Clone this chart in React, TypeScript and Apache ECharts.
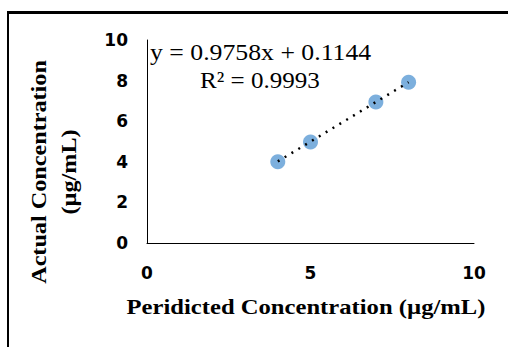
import React, { useEffect, useRef } from "react";
import * as echarts from "echarts";

// Measured samples: predicted vs. actual concentration (µg/mL)
const predicted = [4, 5, 7, 8];
const actual = [4.0, 4.98, 6.95, 7.92];

// Linear fit reported on the chart
const slope = 0.9758;
const intercept = 0.1144;
const rSquared = 0.9993;

const xTicks = [0, 5, 10];
const yTicks = [0, 2, 4, 6, 8, 10];

const xTitle = "Peridicted Concentration (µg/mL)";
const yTitle = ["Actual Concentration", "(µg/mL)"];

const serif = "'Liberation Serif', 'Times New Roman', serif";
const sans = "'DejaVu Sans', Verdana, sans-serif";

// serif texts are drawn slightly wide
const stretch = 1.12;

export default function App() {
  const ref = useRef<HTMLDivElement>(null);

  useEffect(() => {
    document.body.style.margin = "0";
    if (!ref.current) return;
    const chart = echarts.init(ref.current, null, { renderer: "svg" });

    const xMin = Math.min(...predicted);
    const xMax = Math.max(...predicted);
    const trend = [
      [xMin, slope * xMin + intercept],
      [xMax, slope * xMax + intercept],
    ];

    chart.setOption({
      animation: false,
      backgroundColor: "#ffffff",
      grid: { left: 147, top: 40, width: 327, height: 203 },
      xAxis: {
        type: "value",
        min: xTicks[0],
        max: xTicks[xTicks.length - 1],
        interval: 5,
        axisLine: { show: true, lineStyle: { color: "#000", width: 1 } },
        axisTick: { show: false },
        splitLine: { show: false },
        axisLabel: {
          color: "#000",
          fontFamily: sans,
          fontWeight: "bold",
          fontSize: 17,
          margin: 21,
        },
      },
      yAxis: {
        type: "value",
        min: yTicks[0],
        max: yTicks[yTicks.length - 1],
        interval: 2,
        axisLine: { show: true, lineStyle: { color: "#000", width: 1 } },
        axisTick: { show: false },
        splitLine: { show: false },
        axisLabel: {
          color: "#000",
          fontFamily: sans,
          fontWeight: "bold",
          fontSize: 17,
          margin: 19,
        },
      },
      graphic: [
        // frame lines
        {
          type: "line",
          shape: { x1: 7, y1: 12.5, x2: 508, y2: 12.5 },
          style: { stroke: "#000", lineWidth: 3 },
        },
        {
          type: "line",
          shape: { x1: 8, y1: 11, x2: 8, y2: 347 },
          style: { stroke: "#000", lineWidth: 2 },
        },
        // x-axis title
        {
          type: "text",
          x: 306,
          y: 306,
          scaleX: stretch,
          style: {
            text: xTitle,
            fill: "#000",
            font: `bold 22px ${serif}`,
            align: "center",
            verticalAlign: "middle",
          },
        },
        // y-axis title, two rotated lines
        {
          type: "text",
          x: 38,
          y: 172,
          rotation: Math.PI / 2,
          scaleX: 1.1,
          style: {
            text: yTitle[0],
            fill: "#000",
            font: `bold 22px ${serif}`,
            align: "center",
            verticalAlign: "middle",
          },
        },
        {
          type: "text",
          x: 68,
          y: 172,
          rotation: Math.PI / 2,
          scaleX: 1.1,
          style: {
            text: yTitle[1],
            fill: "#000",
            font: `bold 22px ${serif}`,
            align: "center",
            verticalAlign: "middle",
          },
        },
        // trendline equation
        {
          type: "text",
          x: 150,
          y: 52,
          scaleX: stretch,
          style: {
            text: `y = ${slope}x + ${intercept}`,
            fill: "#000",
            font: `23px ${serif}`,
            align: "left",
            verticalAlign: "middle",
          },
        },
        {
          type: "text",
          x: 200,
          y: 80,
          scaleX: 1.09,
          style: {
            text: `R² = ${rSquared}`,
            fill: "#000",
            font: `23px ${serif}`,
            align: "left",
            verticalAlign: "middle",
          },
        },
      ],
      series: [
        {
          type: "scatter",
          data: predicted.map((x, i) => [x, actual[i]]),
          symbolSize: 15,
          itemStyle: { color: "#5B9BD5" },
          z: 2,
        },
        {
          type: "line",
          data: trend,
          showSymbol: false,
          symbol: "none",
          lineStyle: { color: "#000", width: 2.5, type: [2, 6] },
          z: 3,
        },
      ],
    });

    return () => chart.dispose();
  }, []);

  return <div ref={ref} style={{ width: 508, height: 347 }} />;
}
